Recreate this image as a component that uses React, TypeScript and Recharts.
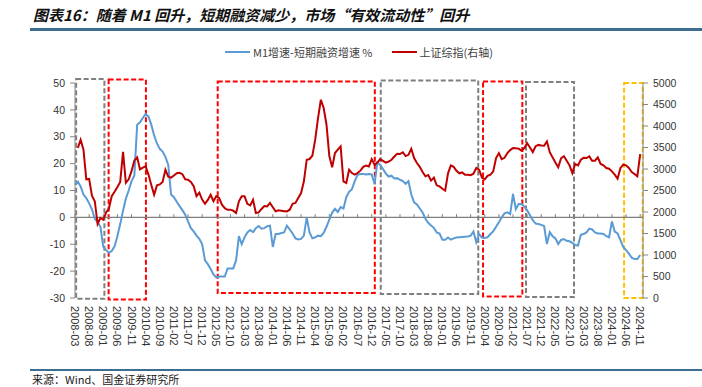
import React from 'react'
import { ComposedChart, Line, XAxis, YAxis, ReferenceLine, ReferenceArea, Legend } from 'recharts'

const BLUE = '#5B9BD5'
const RED = '#C00000'
const AXIS = '#868686'

// monthly categories, 2008-03 .. 2024-11
const START_YEAR = 2008
const START_MONTH = 3
const months: string[] = Array.from({ length: 201 }, (_, i) => {
  const m = START_MONTH - 1 + i
  return `${START_YEAR + Math.floor(m / 12)}-${String((m % 12) + 1).padStart(2, '0')}`
})

// M1增速-短期融资增速, %
const spread = [
  12.6, 13.3, 11.5, 8.5, 7.2, 5.2, 3, -0.5, -1.8, -3.5,
  -11, -12.2, -13.2, -12.5, -10.8, -7, -2.5, 2.5, 7, 10,
  13.5, 15.5, 34.5, 35.4, 37, 38.5, 37.5, 34.5, 30.5, 27.5,
  25.5, 24.5, 22.5, 19.5, 8.5, 7.5, 5.8, 4.2, 2.7, 1,
  -1.5, -4, -5.2, -6.8, -8, -10, -16, -17.4, -19.2, -21.2,
  -22.3, -22, -22, -22, -19, -19, -19, -16, -7, -10,
  -7.4, -5.6, -4.7, -5.5, -4, -3.2, -4.2, -4, -3.3, -3.1,
  -11, -6.2, -6.2, -5.8, -5.6, -3.1, -4.5, -6, -7.8, -8.2,
  -8, -6.8, 0, -5.6, -7.8, -7.4, -6.8, -7, -5.8, -3.5,
  -0.8, 1.8, 3.2, 2, 3.8, 3.3, 7.5, 9.5, 10.5, 13.5,
  15.8, 16.1, 16.1, 16, 16.1, 16, 12.4, 20.5, 19.5, 18,
  16.3, 15.2, 15.5, 14.5, 14.6, 14, 13.5, 12.5, 13.5, 8.5,
  5.6, 4.8, 3.3, 1.8, -0.5, -2, -3, -3.9, -5.6, -6,
  -8.3, -8.3, -7.5, -8.3, -7.8, -7.5, -7.4, -7.3, -7.2, -7.1,
  -6.8, -5.3, -9.3, -6.2, -7.5, -7.7, -7.4, -6.2, -5.2, -3.5,
  -1.8, 0, 1.5, 1.9, 1.2, 8.7, 3.1, 5, 5, 4,
  2.6, 0.8, -1, -2.3, -2.5, -2.8, -3.2, -9.9, -5.5, -7,
  -7.8, -9.9, -8.4, -8.1, -8.7, -8.9, -9.5, -10.3, -10.5, -6.5,
  -6.2, -5.6, -4.2, -4.5, -5.6, -6, -6, -6.2, -7, -7.4,
  -1.5, -5.3, -6, -8.5, -11, -12.2, -13.5, -15, -15.5, -15.5,
  -14,
]

// 上证综指
const shIndex = [
  null, 3490, 3680, 3450, 2760, 2770, 2380, 2250, 1720, 1860,
  1820, 1990, 2080, 2370, 2470, 2580, 2700, 3400, 2680, 2760,
  2950, 3200, 3270, 2990, 3030, 3060, 2870, 2630, 2400, 2620,
  2640, 2700, 2980, 2820, 2800, 2850, 2900, 2910, 2880, 2760,
  2750, 2700, 2600, 2370, 2450, 2290, 2190, 2280, 2400, 2250,
  2370, 2330, 2170, 2090, 2050, 2054, 2030, 1976, 2250, 2364,
  2364, 2190, 2155, 2286, 1976, 1990, 2070, 2140, 2130, 2210,
  2110, 2015, 2040, 2031, 2020, 2015, 2054, 2190, 2209, 2325,
  2440, 2713, 3216, 3232, 3309, 3681, 4185, 4611, 4418, 4030,
  3300, 3040, 3371, 3449, 3526, 2713, 2674, 2984, 2906, 2868,
  2906, 2961, 3050, 3080, 3060, 3230, 3100, 3150, 3230, 3190,
  3150, 3170, 3216, 3290, 3356, 3348, 3390, 3300, 3330, 3470,
  3255, 3140, 3050, 2930, 2830, 2860, 2730, 2800, 2620, 2596,
  2540, 2496, 2900, 3085, 3050, 2960, 2900, 2920, 2868, 2868,
  2855, 2890, 3023, 2984, 2800, 2760, 2840, 2870, 2945, 3255,
  3370, 3230, 3260, 3370, 3440, 3488, 3480, 3470, 3426, 3488,
  3600, 3500, 3394, 3530, 3560, 3545, 3540, 3643, 3390, 3270,
  3150, 3038, 3250, 3300, 3193, 3085, 2906, 3116, 3085, 3216,
  3260, 3255, 3294, 3193, 3193, 3270, 3116, 3085, 3023, 3007,
  2945, 2870, 2775, 3020, 3100, 3085, 3023, 2930, 2883, 2829,
  3348,
]

// highlighted periods (month index, left-axis value)
const boxes = [
  { x1: 0.4, x2: 10.4, y1: -30.3, y2: 51.5, color: '#7F7F7F' },
  { x1: 11.9, x2: 25.1, y1: -30.6, y2: 51.3, color: '#FF0000' },
  { x1: 50.5, x2: 106.1, y1: -28.1, y2: 50.6, color: '#FF0000' },
  { x1: 108.2, x2: 142.7, y1: -28.5, y2: 50.9, color: '#7F7F7F' },
  { x1: 144.4, x2: 158.3, y1: -29.4, y2: 50.6, color: '#FF0000' },
  { x1: 159.6, x2: 176.6, y1: -29.6, y2: 50.4, color: '#7F7F7F' },
  { x1: 194.3, x2: 200.9, y1: -30, y2: 50, color: '#FFC000' },
]

const leftTicks = [-30, -20, -10, 0, 10, 20, 30, 40, 50]
const rightTicks = [0, 500, 1000, 1500, 2000, 2500, 3000, 3500, 4000, 4500, 5000]
const xTicks = months.map((_, i) => i).filter((i) => i % 5 === 0)

const data = months.map((m, i) => ({ i, month: m, spread: spread[i], sh: shIndex[i] }))

const legendItems = [
  { label: 'M1增速-短期融资增速 %', color: BLUE },
  { label: '上证综指(右轴)', color: RED },
]

const MonthTick = ({ x, y, payload }: any) => (
  <text
    x={x}
    y={y}
    transform={`rotate(90, ${x}, ${y})`}
    textAnchor="start"
    dominantBaseline="central"
    fontSize={11}
    fill="#333"
  >
    {months[payload.value]}
  </text>
)

const LegendContent = () => (
  <div style={{ display: 'flex', justifyContent: 'center', paddingLeft: 16, fontSize: 11, color: '#404040', fontFamily: '"Noto Sans CJK SC", sans-serif' }}>
    {legendItems.map((it, k) => (
      <div key={k} style={{ display: 'flex', alignItems: 'center', marginLeft: k ? 19 : 0 }}>
        <span style={{ display: 'inline-block', width: 25, height: 2.5, background: it.color, marginRight: 3 }} />
        <span>{it.label}</span>
      </div>
    ))}
  </div>
)

export default function App() {
  return (
    <div style={{ position: 'absolute', left: 0, top: 0, width: 702, height: 387, background: '#fff', fontFamily: '"Liberation Sans", Arial, sans-serif' }}>
      <div style={{ position: 'absolute', left: 33, top: 4, fontSize: 15, fontWeight: 'bold', fontStyle: 'italic', color: '#111', fontFamily: '"Noto Sans CJK SC", sans-serif', whiteSpace: 'nowrap' }}>
        图表16：随着 M1 回升，短期融资减少，市场“有效流动性”回升
      </div>
      <div style={{ position: 'absolute', left: 30, top: 28, width: 672, height: 2.5, background: '#3C6E91' }} />

      <ComposedChart width={702} height={387} data={data} margin={{ top: 83, right: 0, bottom: 0, left: 0 }}>
        <XAxis
          dataKey="i"
          type="number"
          domain={[0, 201]}
          ticks={xTicks}
          interval={0}
          axisLine={false}
          tickLine={false}
          height={89}
          tick={<MonthTick />}
        />
        <YAxis
          yAxisId="left"
          domain={[-30, 50]}
          ticks={leftTicks}
          interval={0}
          width={75}
          stroke={AXIS}
          tickSize={5}
          tickMargin={5}
          tick={{ fontSize: 10.5, fill: '#333' }}
        />
        <YAxis
          yAxisId="right"
          orientation="right"
          domain={[0, 5000]}
          ticks={rightTicks}
          interval={0}
          width={59}
          stroke={AXIS}
          tickSize={5}
          tickMargin={5}
          tick={{ fontSize: 10.5, fill: '#333' }}
        />
        <Legend verticalAlign="middle" content={<LegendContent />} wrapperStyle={{ top: 44, left: 0, width: 702 }} />
        <ReferenceLine yAxisId="left" y={0} stroke="#7F7F7F" strokeWidth={1.2} />
        {xTicks.map((t) => (
          <ReferenceLine
            key={t}
            yAxisId="left"
            segment={[{ x: t, y: 0 }, { x: t, y: 1.2 }]}
            stroke="#7F7F7F"
            strokeWidth={1}
          />
        ))}
        {boxes.map((b, k) => (
          <ReferenceArea
            key={k}
            yAxisId="left"
            x1={b.x1}
            x2={b.x2}
            y1={b.y1}
            y2={b.y2}
            ifOverflow="visible"
            fill="none"
            stroke={b.color}
            strokeWidth={2}
            strokeDasharray="5 2.5"
          />
        ))}
        <Line yAxisId="left" dataKey="spread" stroke={BLUE} strokeWidth={2} dot={false} isAnimationActive={false} />
        <Line yAxisId="right" dataKey="sh" stroke={RED} strokeWidth={2} dot={false} isAnimationActive={false} />
      </ComposedChart>

      <div style={{ position: 'absolute', left: 30, top: 369, width: 672, height: 1.5, background: '#3C6E91' }} />
      <div style={{ position: 'absolute', left: 32, top: 371, fontSize: 11, color: '#1a1a1a', fontFamily: '"Noto Sans CJK SC", sans-serif', whiteSpace: 'nowrap' }}>
        来源：Wind、国金证券研究所
      </div>
    </div>
  )
}
